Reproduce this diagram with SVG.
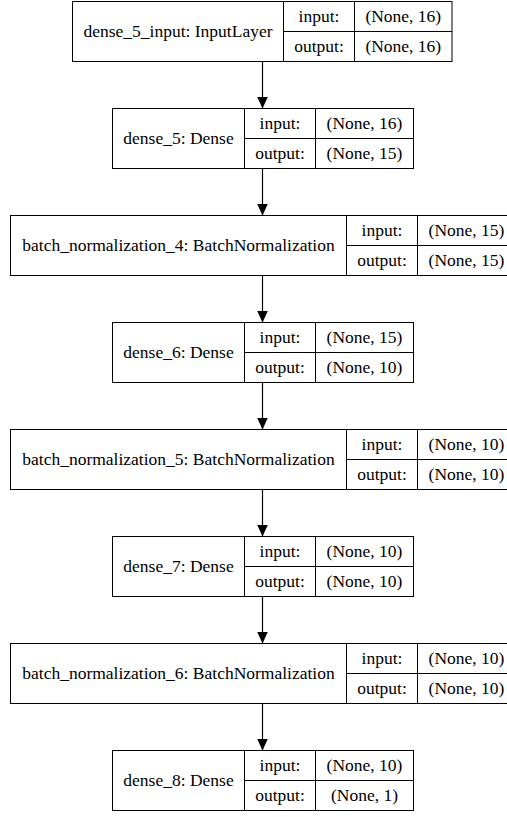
<svg xmlns="http://www.w3.org/2000/svg" width="507" height="817" viewBox="0 0 507 817">
<style>
rect,line.d{fill:#fff;stroke:#000;stroke-width:1}
text{font-family:"Liberation Serif","Times New Roman",serif;font-size:17.5px;fill:#000;text-anchor:middle}
.e{stroke:#000;stroke-width:1.2;fill:none}
</style>
<defs>
<marker id="ah" markerUnits="userSpaceOnUse" viewBox="0 0 12 11" refX="12" refY="5.5" markerWidth="12" markerHeight="11" orient="auto">
<path d="M0,0 L12,5.5 L0,11 Z" fill="#000"/>
</marker>
</defs>
<rect x="0" y="0" width="507" height="817" style="stroke:none"/>
<g id="edges">
<line class="e" x1="262.5" y1="61.5" x2="262.5" y2="108.5" marker-end="url(#ah)"/>
<line class="e" x1="262.5" y1="168.5" x2="262.5" y2="215.5" marker-end="url(#ah)"/>
<line class="e" x1="262.5" y1="275.5" x2="262.5" y2="322.5" marker-end="url(#ah)"/>
<line class="e" x1="262.5" y1="382.5" x2="262.5" y2="429.5" marker-end="url(#ah)"/>
<line class="e" x1="262.5" y1="489.5" x2="262.5" y2="536.5" marker-end="url(#ah)"/>
<line class="e" x1="262.5" y1="596.5" x2="262.5" y2="643.5" marker-end="url(#ah)"/>
<line class="e" x1="262.5" y1="703.5" x2="262.5" y2="750.5" marker-end="url(#ah)"/>
</g>
<g id="dense_5_input">
<rect x="72.5" y="1.5" width="379.5" height="60"/>
<line class="d" x1="283.5" y1="1.5" x2="283.5" y2="61.5"/>
<line class="d" x1="354.5" y1="1.5" x2="354.5" y2="61.5"/>
<line class="d" x1="283.5" y1="31.5" x2="452" y2="31.5"/>
<text x="178" y="37">dense_5_input: InputLayer</text>
<text x="319" y="22">input:</text>
<text x="319" y="52">output:</text>
<text x="403.3" y="22">(None, 16)</text>
<text x="403.3" y="52">(None, 16)</text>
</g>
<g id="dense_5">
<rect x="112.5" y="108.5" width="301" height="60"/>
<line class="d" x1="244.5" y1="108.5" x2="244.5" y2="168.5"/>
<line class="d" x1="315.5" y1="108.5" x2="315.5" y2="168.5"/>
<line class="d" x1="244.5" y1="138.5" x2="413.5" y2="138.5"/>
<text x="178.5" y="144">dense_5: Dense</text>
<text x="280" y="129">input:</text>
<text x="280" y="159">output:</text>
<text x="364.5" y="129">(None, 16)</text>
<text x="364.5" y="159">(None, 15)</text>
</g>
<g id="batch_normalization_4">
<rect x="10.5" y="215.5" width="505" height="60"/>
<line class="d" x1="346.5" y1="215.5" x2="346.5" y2="275.5"/>
<line class="d" x1="417.5" y1="215.5" x2="417.5" y2="275.5"/>
<line class="d" x1="346.5" y1="245.5" x2="516" y2="245.5"/>
<text x="178.5" y="251">batch_normalization_4: BatchNormalization</text>
<text x="382" y="236">input:</text>
<text x="382" y="266">output:</text>
<text x="466.5" y="236">(None, 15)</text>
<text x="466.5" y="266">(None, 15)</text>
</g>
<g id="dense_6">
<rect x="112.5" y="322.5" width="301" height="60"/>
<line class="d" x1="244.5" y1="322.5" x2="244.5" y2="382.5"/>
<line class="d" x1="315.5" y1="322.5" x2="315.5" y2="382.5"/>
<line class="d" x1="244.5" y1="352.5" x2="413.5" y2="352.5"/>
<text x="178.5" y="358">dense_6: Dense</text>
<text x="280" y="343">input:</text>
<text x="280" y="373">output:</text>
<text x="364.5" y="343">(None, 15)</text>
<text x="364.5" y="373">(None, 10)</text>
</g>
<g id="batch_normalization_5">
<rect x="10.5" y="429.5" width="505" height="60"/>
<line class="d" x1="346.5" y1="429.5" x2="346.5" y2="489.5"/>
<line class="d" x1="417.5" y1="429.5" x2="417.5" y2="489.5"/>
<line class="d" x1="346.5" y1="459.5" x2="516" y2="459.5"/>
<text x="178.5" y="465">batch_normalization_5: BatchNormalization</text>
<text x="382" y="450">input:</text>
<text x="382" y="480">output:</text>
<text x="466.5" y="450">(None, 10)</text>
<text x="466.5" y="480">(None, 10)</text>
</g>
<g id="dense_7">
<rect x="112.5" y="536.5" width="301" height="60"/>
<line class="d" x1="244.5" y1="536.5" x2="244.5" y2="596.5"/>
<line class="d" x1="315.5" y1="536.5" x2="315.5" y2="596.5"/>
<line class="d" x1="244.5" y1="566.5" x2="413.5" y2="566.5"/>
<text x="178.5" y="572">dense_7: Dense</text>
<text x="280" y="557">input:</text>
<text x="280" y="587">output:</text>
<text x="364.5" y="557">(None, 10)</text>
<text x="364.5" y="587">(None, 10)</text>
</g>
<g id="batch_normalization_6">
<rect x="10.5" y="643.5" width="505" height="60"/>
<line class="d" x1="346.5" y1="643.5" x2="346.5" y2="703.5"/>
<line class="d" x1="417.5" y1="643.5" x2="417.5" y2="703.5"/>
<line class="d" x1="346.5" y1="673.5" x2="516" y2="673.5"/>
<text x="178.5" y="679">batch_normalization_6: BatchNormalization</text>
<text x="382" y="664">input:</text>
<text x="382" y="694">output:</text>
<text x="466.5" y="664">(None, 10)</text>
<text x="466.5" y="694">(None, 10)</text>
</g>
<g id="dense_8">
<rect x="112.5" y="750.5" width="301" height="60"/>
<line class="d" x1="244.5" y1="750.5" x2="244.5" y2="810.5"/>
<line class="d" x1="315.5" y1="750.5" x2="315.5" y2="810.5"/>
<line class="d" x1="244.5" y1="780.5" x2="413.5" y2="780.5"/>
<text x="178.5" y="786">dense_8: Dense</text>
<text x="280" y="771">input:</text>
<text x="280" y="801">output:</text>
<text x="364.5" y="771">(None, 10)</text>
<text x="364.5" y="801">(None, 1)</text>
</g>
</svg>
